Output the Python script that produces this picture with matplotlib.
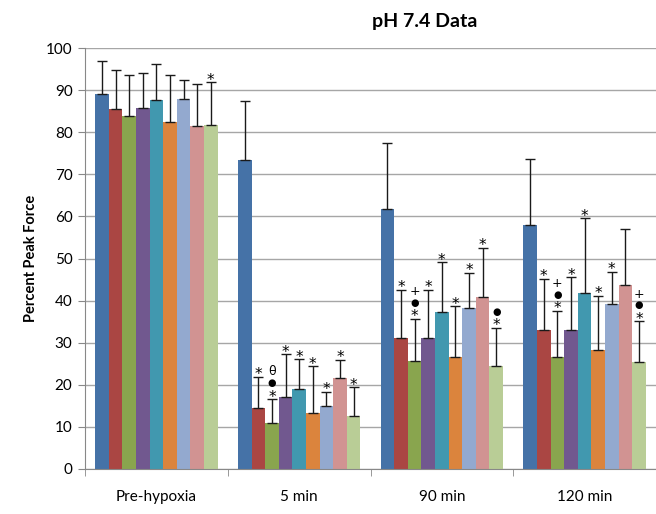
import numpy as np
import matplotlib
matplotlib.use('Agg')
from matplotlib import pyplot as plt

# Time points and series
groups = ['Pre-hypoxia', '5 min', '90 min', '120 min']
colors = ['#4572A7', '#AA4643', '#89A54E', '#71588F', '#4198AF',
          '#DB843D', '#93A9CF', '#D19392', '#B9CD96']

# one row per series (9), one column per time point
means = [
    [89.0, 73.4, 61.7, 58.0],
    [85.6, 14.5, 31.2, 32.9],
    [83.9, 11.0, 25.6, 26.7],
    [85.7, 17.0, 31.2, 33.0],
    [87.7, 19.0, 37.3, 41.7],
    [82.5, 13.4, 26.6, 28.2],
    [87.9, 14.9, 38.3, 39.3],
    [81.4, 21.7, 40.8, 43.7],
    [81.6, 12.6, 24.4, 25.3],
]
upper = [
    [96.9, 87.4, 77.4, 73.7],
    [94.8, 21.9, 42.6, 45.2],
    [93.5, 16.6, 35.7, 37.6],
    [94.1, 27.3, 42.6, 45.6],
    [96.1, 26.1, 49.1, 59.6],
    [93.6, 24.4, 38.6, 41.1],
    [92.3, 18.3, 46.6, 46.8],
    [91.4, 25.9, 52.5, 57.1],
    [91.9, 19.4, 33.6, 35.1],
]
# significance marks, bottom to top
marks = [
    ['', '', '', ''],
    ['', '*', '*', '*'],
    ['', '*\u25CF\u03B8', '*\u25CF+', '*\u25CF+'],
    ['', '*', '*', '*'],
    ['', '*', '*', '*'],
    ['', '*', '*', '*'],
    ['', '*', '*', '*'],
    ['', '*', '*', ''],
    ['*', '*', '*\u25CF', '*\u25CF+'],
]
# font size and baseline offset above the cap (points) for each mark
mark_style = {
    '*': (11, -1.8),
    '\u25CF': (7, 9.2),
    '+': (9, 16.8),
    '\u03B8': (9, 17.5),
}

plt.rcParams['font.family'] = ['Lato', 'DejaVu Sans']

fig = plt.figure(figsize=(6.56, 5.14), dpi=100)
ax = fig.add_axes([85 / 656, 1 - 469 / 514, 1 - 85 / 656, 421 / 514])

n = len(means)
width = 1.0 / (n + 1.5)
x = np.arange(len(groups))

for j in range(n):
    pos = x + (j - (n - 1) / 2) * width
    m = np.array(means[j])
    up = np.array(upper[j]) - m
    ax.bar(pos, m, width, color=colors[j], zorder=2)
    ax.errorbar(pos, m, yerr=[np.zeros_like(m), up], fmt='none',
                ecolor='#1a1a1a', elinewidth=1.0, capsize=3.5,
                capthick=1.0, zorder=3)
    for k in range(len(groups)):
        for sym in marks[j][k]:
            fs, dy = mark_style[sym]
            ax.annotate(sym, (pos[k], upper[j][k]), xytext=(0, dy),
                        textcoords='offset points', ha='center',
                        va='baseline', fontsize=fs,
                        family=['DejaVu Sans'], zorder=4)

ax.set_xlim(-0.5, len(groups) - 0.5)
ax.set_ylim(0, 100)
ax.set_yticks(np.arange(0, 101, 10))
ax.set_xticks(x)
ax.set_xticklabels(groups, fontsize=11)
ax.set_xticks(np.arange(-0.5, len(groups), 1), minor=True)
ax.tick_params(axis='x', which='major', length=0, pad=15)
ax.tick_params(axis='x', which='minor', length=5, color='#888888')
ax.tick_params(axis='y', length=5, color='#888888', labelsize=11, pad=4)
ax.yaxis.grid(True, color='#a6a6a6', linewidth=1.0, zorder=0)
ax.set_axisbelow(True)
for side in ['top', 'right']:
    ax.spines[side].set_visible(False)
for side in ['left', 'bottom']:
    ax.spines[side].set_color('#888888')
ax.set_ylabel('Percent Peak Force', fontsize=10.5, fontweight='bold', labelpad=6)
fig.text(425 / 656, 1 - 22 / 514, 'pH 7.4 Data', ha='center', va='center',
         fontsize=14, fontweight='bold')

fig.savefig('out.png', dpi=100)
